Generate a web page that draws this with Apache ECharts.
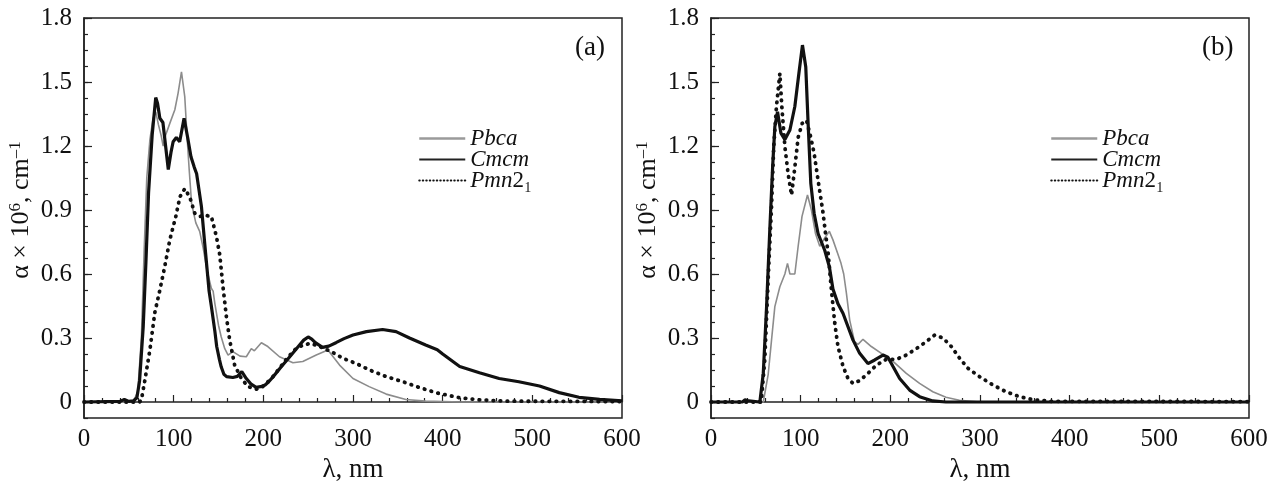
<!DOCTYPE html>
<html>
<head>
<meta charset="utf-8">
<script src="https://cdn.jsdelivr.net/npm/echarts@6/dist/echarts.min.js"></script>
<style>
  html, body { margin: 0; padding: 0; background: #fff; }
  #main { width: 1279px; height: 482px; }
</style>
</head>
<body>
<div id="main"></div>
<script>
// panel (a)
const aPbcaX = [0, 55, 60, 64, 67, 70, 73.5, 77, 80, 83, 86, 88.3, 91, 95.7, 101.3, 104.9, 108.7, 112.4, 115, 117.3, 120, 124.7, 129, 133, 137, 142, 144, 146, 150, 153, 157, 160.7, 166, 174, 181, 186.6, 190, 197.8, 205, 218, 233, 244, 259, 272, 285, 300, 318, 337, 359, 381, 420, 600];
const aPbcaY = [0, 0, 0.05, 0.3, 0.7, 1.05, 1.23, 1.33, 1.36, 1.3, 1.25, 1.2, 1.25, 1.306, 1.37, 1.447, 1.548, 1.43, 1.24, 1.09, 0.93, 0.84, 0.8, 0.72, 0.62, 0.533, 0.52, 0.46, 0.36, 0.306, 0.25, 0.22, 0.236, 0.215, 0.212, 0.25, 0.24, 0.278, 0.26, 0.212, 0.184, 0.19, 0.22, 0.244, 0.173, 0.11, 0.072, 0.037, 0.012, 0.004, 0, 0];

const aCmcmX = [0, 40, 45, 50, 55, 59, 62, 66, 69, 72, 76, 80, 82, 84.6, 88, 91, 94, 97, 99.4, 103, 106.7, 111.6, 115.6, 119.3, 123, 125.6, 131, 134.7, 139.5, 142, 146, 148, 151, 153, 156, 159, 166, 171, 176, 181, 186, 192, 197, 202, 206, 211, 220, 229, 239, 245, 250, 254, 258, 266, 273, 281, 290, 300, 315, 333, 348, 363, 381, 394, 400, 419, 441, 463, 485, 508, 530, 552, 575, 600];
const aCmcmY = [0, 0.003, 0.012, 0.003, 0.005, 0.02, 0.1, 0.35, 0.65, 0.98, 1.25, 1.427, 1.4, 1.33, 1.31, 1.2, 1.09, 1.17, 1.22, 1.24, 1.22, 1.33, 1.24, 1.15, 1.1, 1.07, 0.915, 0.74, 0.52, 0.45, 0.33, 0.26, 0.2, 0.165, 0.13, 0.119, 0.115, 0.12, 0.142, 0.11, 0.085, 0.069, 0.072, 0.08, 0.095, 0.119, 0.165, 0.21, 0.26, 0.29, 0.305, 0.295, 0.278, 0.256, 0.262, 0.278, 0.297, 0.314, 0.33, 0.34, 0.33, 0.3, 0.267, 0.245, 0.225, 0.166, 0.137, 0.11, 0.095, 0.075, 0.044, 0.022, 0.012, 0.005];

const aPmnX = [0, 62, 64, 67.8, 73.5, 79, 84.6, 90, 95.7, 102.4, 107, 112.4, 118, 123.5, 129, 134.7, 142, 147.7, 151.4, 155, 158.8, 162.5, 168, 175.5, 183, 192, 199.6, 209, 218, 225.6, 234.7, 244, 253, 262.6, 275.7, 288.7, 303.6, 318.5, 337, 355.6, 374, 393, 418.6, 440.8, 470, 600];
const aPmnY = [0, 0, 0.01, 0.1, 0.244, 0.42, 0.525, 0.634, 0.76, 0.87, 0.962, 1.0, 0.96, 0.885, 0.87, 0.875, 0.87, 0.775, 0.69, 0.54, 0.4, 0.29, 0.173, 0.11, 0.072, 0.06, 0.073, 0.11, 0.158, 0.2, 0.244, 0.267, 0.275, 0.26, 0.236, 0.205, 0.18, 0.15, 0.119, 0.095, 0.068, 0.043, 0.02, 0.01, 0.004, 0.002];

// panel (b)
const bPbcaX = [0, 58.3, 63.8, 67.5, 71.2, 76.8, 82.4, 85.3, 88, 93.5, 97.2, 101.5, 107.6, 112, 116.5, 121.3, 127, 132, 136, 141, 145, 148, 151, 154.7, 160, 164, 169.5, 178.8, 190, 203, 217.8, 232.6, 247.4, 262, 277, 300, 600];
const bPbcaY = [0, 0, 0.13, 0.29, 0.447, 0.54, 0.6, 0.65, 0.6, 0.6, 0.73, 0.87, 0.97, 0.9, 0.79, 0.73, 0.77, 0.8, 0.76, 0.7, 0.65, 0.6, 0.51, 0.384, 0.283, 0.27, 0.294, 0.26, 0.228, 0.19, 0.134, 0.087, 0.048, 0.022, 0.008, 0, 0];

const bCmcmX = [0, 35, 38, 42, 54.5, 58.3, 62, 65.7, 68.7, 71.2, 74.2, 78, 82.4, 88, 93.5, 98, 102, 105.7, 108.3, 111.3, 115, 119.4, 126.9, 132, 136, 141.6, 147.3, 152.8, 158.4, 165.8, 175, 182.6, 191.8, 197.3, 203, 210.4, 221.5, 232.6, 247.4, 262, 600];
const bCmcmY = [0, 0, 0.01, 0.005, 0, 0.134, 0.447, 0.82, 1.1, 1.29, 1.36, 1.26, 1.23, 1.275, 1.385, 1.54, 1.673, 1.57, 1.306, 1.025, 0.885, 0.79, 0.71, 0.634, 0.53, 0.46, 0.415, 0.353, 0.29, 0.228, 0.18, 0.197, 0.22, 0.21, 0.166, 0.11, 0.056, 0.025, 0.005, 0, 0];

const bPmnX = [0, 56, 60, 64, 67.5, 70, 73, 76.8, 79, 82.4, 86, 89.8, 93.5, 97.2, 101.7, 106.5, 111.3, 115, 119.4, 125, 128, 130.6, 134.3, 138, 141.6, 147.3, 152.8, 158.4, 165.8, 175, 184.5, 195.5, 206.7, 217.8, 229, 240, 249.4, 258.7, 268, 277.3, 286.6, 299.4, 314.3, 329, 344, 360, 380, 600];
const bPmnY = [0, 0, 0.2, 0.6, 0.915, 1.2, 1.385, 1.54, 1.385, 1.197, 1.07, 0.97, 1.1, 1.24, 1.306, 1.32, 1.24, 1.166, 1.04, 0.885, 0.78, 0.7, 0.525, 0.37, 0.26, 0.166, 0.11, 0.087, 0.1, 0.134, 0.173, 0.2, 0.2, 0.22, 0.25, 0.283, 0.314, 0.3, 0.26, 0.205, 0.158, 0.119, 0.08, 0.048, 0.025, 0.01, 0.003, 0.002];

const xTicks = { min: 0, max: 600, interval: 100 };
const yTicks = { min: 0, max: 1.8, interval: 0.3 };

const serif = '"Liberation Serif", "DejaVu Serif", serif';
let chart = null;

function pairs(xs, ys) {
  return xs.map(function (x, i) { return [x, ys[i]]; });
}

// line look for each structure
const styles = {
  Pbca: { color: '#8c8c8c', width: 1.6, type: 'solid' },
  Cmcm: { color: '#111', width: 3.2, type: 'solid' },
  Pmn2_1: { color: '#111', width: 3.8, type: [0.5, 6.5], cap: 'round' }
};

// axisIdx: index of the main x/y axis of the panel
function makeSeries(name, axisIdx, xs, ys) {
  const s = styles[name];
  return {
    name: name,
    type: 'line',
    xAxisIndex: axisIdx,
    yAxisIndex: axisIdx,
    symbol: 'none',
    animation: false,
    z: name === 'Pbca' ? 2 : 3,
    lineStyle: { color: s.color, width: s.width, type: s.type, cap: s.cap || 'butt' },
    itemStyle: { color: s.color },
    data: pairs(xs, ys)
  };
}

function makeLegend(left) {
  const hidden = { opacity: 0 };
  return {
    left: left,
    top: 127,
    padding: 0,
    orient: 'vertical',
    itemWidth: 46,
    itemHeight: 10,
    itemGap: -2,
    selectedMode: false,
    data: [
      { name: 'Pbca', itemStyle: hidden, lineStyle: { color: '#9a9a9a', width: 2.5, type: 'solid' } },
      { name: 'Cmcm', itemStyle: hidden, lineStyle: { color: '#222', width: 2, type: 'solid' } },
      { name: 'Pmn2_1', itemStyle: hidden, lineStyle: { color: '#111', width: 2, type: [0.5, 3], cap: 'round' } }
    ],
    formatter: function (name) {
      if (name === 'Pmn2_1') return '{i|Pmn}{n|2₁}';
      return '{i|' + name + '}';
    },
    textStyle: {
      rich: {
        i: { fontFamily: serif, fontStyle: 'italic', fontSize: 23, color: '#111' },
        n: { fontFamily: serif, fontSize: 23, color: '#111' }
      }
    }
  };
}

function initChart(dom, width, height) {
  chart = echarts.init(dom, null, { width: width, height: height, renderer: 'canvas' });

  const panels = [
    { left: 84, right: 657 },
    { left: 711, right: 30 }
  ];

  const grids = [];
  const xAxes = [];
  const yAxes = [];
  panels.forEach(function (p, i) {
    // main grid (frame goes a bit below zero)
    grids.push({
      left: p.left, right: p.right, top: 18, bottom: 64,
      containLabel: false, outerBoundsMode: 'none',
      show: true, borderColor: '#222', borderWidth: 1.5, backgroundColor: 'transparent'
    });
    // grid used only for the labelled y axis, from 0 to 1.8
    grids.push({ left: p.left, right: p.right, top: 18, bottom: 80, containLabel: false, outerBoundsMode: 'none' });

    xAxes.push({
      type: 'value', gridIndex: i * 2,
      min: xTicks.min, max: xTicks.max, interval: xTicks.interval,
      name: 'λ, nm', nameLocation: 'middle', nameGap: 37,
      nameTextStyle: { fontFamily: serif, fontSize: 27, color: '#111' },
      axisLine: { lineStyle: { color: '#222', width: 1.5 } },
      axisTick: { inside: true, length: 7, lineStyle: { color: '#222', width: 1.2 } },
      minorTick: { show: true, splitNumber: 5, length: 4, lineStyle: { color: '#222', width: 1.2 } },
      splitLine: { show: false },
      axisLabel: { fontFamily: serif, fontSize: 25, color: '#111', margin: 9 }
    });
    xAxes.push({ type: 'value', gridIndex: i * 2 + 1, min: 0, max: 600, show: false });

    yAxes.push({
      type: 'value', gridIndex: i * 2,
      min: -0.075, max: 1.8, interval: 0.075,
      axisLine: { lineStyle: { color: '#222', width: 1.5 } },
      axisTick: { inside: true, length: 4, lineStyle: { color: '#222', width: 1.2 } },
      axisLabel: { show: false },
      splitLine: { show: false }
    });
    yAxes.push({
      type: 'value', gridIndex: i * 2 + 1,
      min: yTicks.min, max: yTicks.max, interval: yTicks.interval,
      name: '{t|α × 10}{s|6}{t|, cm}{s|–1}',
      nameLocation: 'middle', nameGap: 48, nameRotate: 90,
      nameTextStyle: {
        rich: {
          t: { fontFamily: serif, fontSize: 26, color: '#111' },
          s: { fontFamily: serif, fontSize: 17, color: '#111', verticalAlign: 'top', padding: [0, 0, 12, 0] }
        }
      },
      axisLine: { show: false },
      axisTick: { inside: true, length: 8, lineStyle: { color: '#222', width: 1.2 } },
      axisLabel: {
        fontFamily: serif, fontSize: 25, color: '#111', margin: 12,
        formatter: function (v) { return v === 0 ? '0' : v.toFixed(1); }
      },
      splitLine: { show: false }
    });
  });

  const series = [
    makeSeries('Pbca', 0, aPbcaX, aPbcaY),
    makeSeries('Cmcm', 0, aCmcmX, aCmcmY),
    makeSeries('Pmn2_1', 0, aPmnX, aPmnY),
    makeSeries('Pbca', 2, bPbcaX, bPbcaY),
    makeSeries('Cmcm', 2, bCmcmX, bCmcmY),
    makeSeries('Pmn2_1', 2, bPmnX, bPmnY)
  ];

  let option = {
    backgroundColor: '#fff',
    animation: false,
    title: [
      { text: '(a)', left: 570, top: 29, textStyle: { fontFamily: serif, fontSize: 27, fontWeight: 'normal', color: '#111' } },
      { text: '(b)', left: 1197, top: 29, textStyle: { fontFamily: serif, fontSize: 27, fontWeight: 'normal', color: '#111' } }
    ],
    legend: [makeLegend(418), makeLegend(1050)],
    grid: grids,
    xAxis: xAxes,
    yAxis: yAxes,
    series: series
  };

  chart.setOption(option);
  return chart;
}

initChart(document.getElementById('main'), 1279, 482);
</script>
</body>
</html>
